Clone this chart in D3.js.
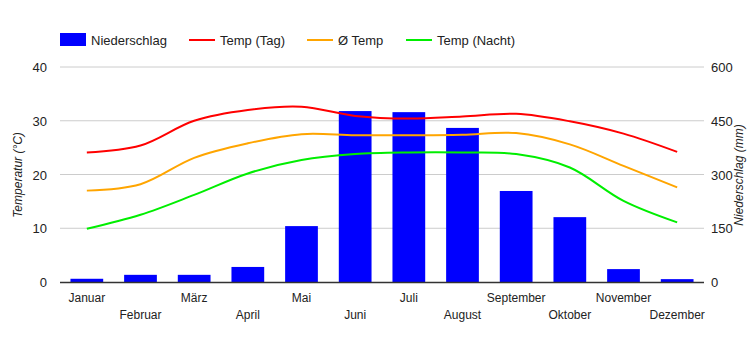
<!DOCTYPE html>
<html><head><meta charset="utf-8">
<script src="https://cdn.jsdelivr.net/npm/d3@7"></script>
<style>body{margin:0;background:#fff}text{font-family:"Liberation Sans",Arial,sans-serif}</style>
</head><body><svg id="c" width="750" height="350"></svg>
<script>
const months = ["Januar","Februar","März","April","Mai","Juni","Juli","August","September","Oktober","November","Dezember"];
const rain = [9,20,20,42,156,477,474,430,254,181,36,8];
const tempDay = [24.1,25.4,30.0,32.0,32.6,30.9,30.4,30.8,31.3,29.9,27.6,24.2];
const tempAvg = [17.0,18.2,23.1,25.8,27.5,27.3,27.3,27.4,27.7,25.6,21.6,17.6];
const tempNight = [9.9,12.5,16.2,20.2,22.7,23.8,24.1,24.1,23.8,21.3,15.1,11.1];
const tempTicks = [0,10,20,30,40];
const rainTicks = [0,150,300,450,600];
const legendItems = [["Niederschlag","bar","#0000ff"],["Temp (Tag)","line","#ff0000"],["Ø Temp","line","#ffa500"],["Temp (Nacht)","line","#00ee00"]];

const svg = d3.select("#c");
const L=60,R=704,T=67,B=282;
const x = d3.scaleBand().domain(months).range([L,R]).paddingInner(0.39).paddingOuter(0.195);
const xc = d3.scaleBand().domain(months).range([L,R]);
const yT = d3.scaleLinear().domain([0,40]).range([B,T]);
const yR = d3.scaleLinear().domain([0,600]).range([B,T]);

// grid
svg.append("g").selectAll("line").data(tempTicks.slice(1)).join("line")
 .attr("x1",L).attr("x2",R).attr("y1",d=>yT(d)).attr("y2",d=>yT(d)).attr("stroke","#cccccc").attr("stroke-width",1);

// axis tick labels
svg.append("g").selectAll("text").data(tempTicks).join("text")
 .attr("x",47).attr("y",d=>yT(d)+5).attr("text-anchor","end").attr("font-size",13).attr("fill","#222").text(d=>d);
svg.append("g").selectAll("text").data(rainTicks).join("text")
 .attr("x",711).attr("y",d=>yR(d)+5).attr("text-anchor","start").attr("font-size",13).attr("fill","#222").text(d=>d);

// bars
svg.append("g").selectAll("rect").data(rain).join("rect")
 .attr("x",(d,i)=>x(months[i])).attr("width",x.bandwidth())
 .attr("y",d=>yR(d)).attr("height",d=>B-yR(d)).attr("fill","#0000ff");

// baseline
svg.append("line").attr("x1",L).attr("x2",R).attr("y1",B+0.5).attr("y2",B+0.5).attr("stroke","#333").attr("stroke-width",1.3);

// lines
const line = d3.line().x((d,i)=>xc(months[i])+xc.bandwidth()/2).y(d=>yT(d)).curve(d3.curveCatmullRom.alpha(0.5));
[[tempDay,"#ff0000"],[tempAvg,"#ffa500"],[tempNight,"#00ee00"]].forEach(([data,col])=>{
  svg.append("path").attr("d",line(data)).attr("fill","none").attr("stroke",col).attr("stroke-width",2);
});

// x labels
svg.append("g").selectAll("text").data(months).join("text")
 .attr("x",d=>xc(d)+xc.bandwidth()/2).attr("y",(d,i)=>i%2===0?302:319)
 .attr("text-anchor","middle").attr("font-size",12).attr("fill","#222").text(d=>d);

// axis titles
svg.append("text").attr("transform","translate(22,175) rotate(-90)").attr("text-anchor","middle")
 .attr("font-size",12).attr("font-style","italic").attr("fill","#222").text("Temperatur (°C)");
svg.append("text").attr("transform","translate(743,175) rotate(-90)").attr("text-anchor","middle")
 .attr("font-size",12).attr("font-style","italic").attr("fill","#222").text("Niederschlag (mm)");

// legend
const lx=[60,189,307,406];
const lg = svg.append("g");
legendItems.forEach(([name,type,col],i)=>{
  const g = lg.append("g").attr("transform",`translate(${lx[i]},40)`);
  if(type==="bar") g.append("rect").attr("x",0).attr("y",-7).attr("width",26).attr("height",13).attr("fill",col);
  else g.append("line").attr("x1",0).attr("x2",26).attr("y1",0).attr("y2",0).attr("stroke",col).attr("stroke-width",2);
  g.append("text").attr("x",31).attr("y",5).attr("font-size",13).attr("fill","#222").text(name);
});
</script></body></html>
